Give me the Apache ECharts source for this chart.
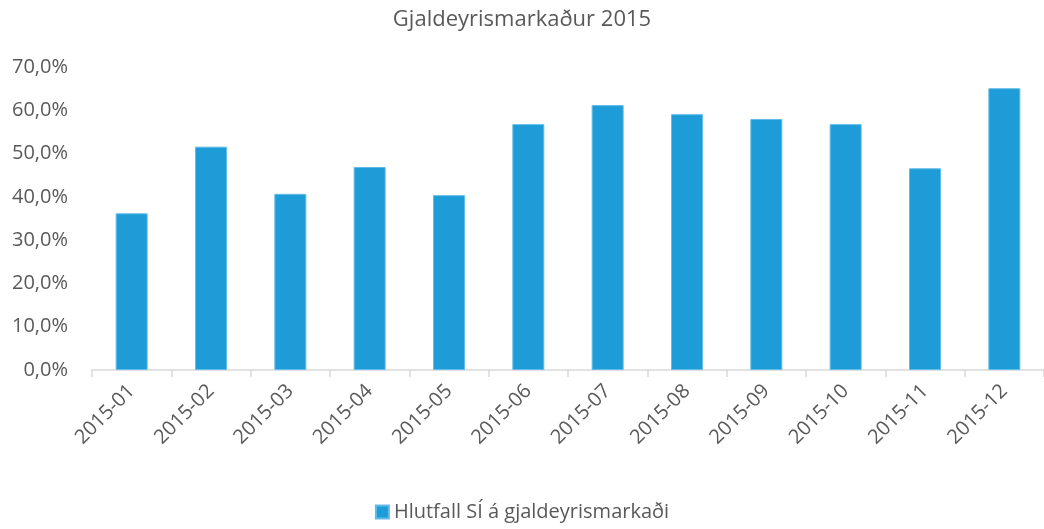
<!DOCTYPE html>
<html>
<head>
<meta charset="utf-8">
<title>Gjaldeyrismarkaður 2015</title>
<script src="https://cdn.jsdelivr.net/npm/echarts@6/dist/echarts.min.js"></script>
<style>
  html, body { margin: 0; padding: 0; background: #fff; }
  #chart { width: 1044px; height: 529px; }
</style>
</head>
<body>
<div id="chart"></div>
<script>
// months on the x axis
var months = ['2015-01', '2015-02', '2015-03', '2015-04', '2015-05', '2015-06',
  '2015-07', '2015-08', '2015-09', '2015-10', '2015-11', '2015-12'];
// share in percent
var hlutfall = [36.2, 51.6, 40.7, 46.9, 40.4, 56.8, 61.2, 59.1, 58.0, 56.8, 46.6, 65.1];
var seriesName = 'Hlutfall SÍ á gjaldeyrismarkaði';

var font = '"Open Sans", "Noto Sans", sans-serif';
var chart = echarts.init(document.getElementById('chart'));

chart.setOption({
  animation: false,
  title: {
    text: 'Gjaldeyrismarkaður 2015',
    left: 'center',
    top: 4,
    textStyle: { fontFamily: font, fontSize: 22, fontWeight: 'normal', color: '#595959' }
  },
  legend: {
    bottom: 2,
    left: 'center',
    icon: 'rect',
    itemWidth: 13,
    itemHeight: 13,
    itemGap: 6,
    textStyle: { fontFamily: font, fontSize: 20, color: '#595959' },
    data: [seriesName]
  },
  grid: { left: 92, width: 961, top: 67, height: 303 },
  xAxis: {
    type: 'category',
    data: months,
    axisLine: { lineStyle: { color: '#d9d9d9', width: 1.5 } },
    axisTick: { show: true, length: 7, lineStyle: { color: '#d9d9d9', width: 1.5 } },
    axisLabel: {
      rotate: 45,
      margin: 18,
      interval: 0,
      fontFamily: font,
      fontSize: 20,
      color: '#595959'
    }
  },
  yAxis: {
    type: 'value',
    min: 0,
    max: 70,
    interval: 10,
    splitLine: { show: false },
    axisLine: { show: false },
    axisTick: { show: false },
    axisLabel: {
      margin: 24,
      fontFamily: font,
      fontSize: 20,
      color: '#595959',
      formatter: function (v) { return v.toFixed(1).replace('.', ',') + '%'; }
    }
  },
  series: [{
    name: seriesName,
    type: 'bar',
    data: hlutfall,
    barWidth: 32,
    itemStyle: { color: '#1e9cd7', borderColor: '#62bce8', borderWidth: 1 }
  }]
});
</script>
</body>
</html>
